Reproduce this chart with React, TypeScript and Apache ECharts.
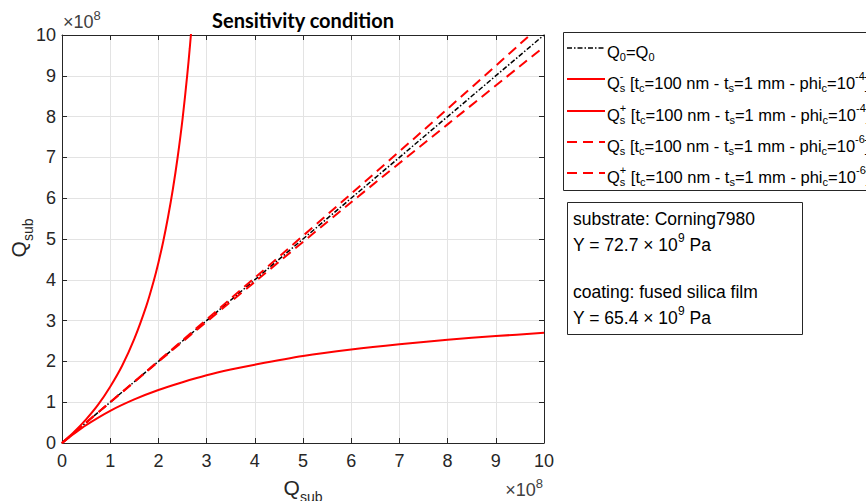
import React, { useEffect, useRef } from "react";
import * as echarts from "echarts";

// ---- data (units of 1e8) ----
const refX = [0, 10];
const refY = [0, 10];

const plus4X = [0, 0.25, 0.5, 0.75, 1, 1.25, 1.5, 1.75, 1.9, 2, 2.1, 2.2, 2.3, 2.4, 2.5, 2.6, 2.65, 2.7, 2.75];
const plus4Y = [0, 0.27, 0.58, 0.94, 1.38, 1.9, 2.55, 3.36, 3.96, 4.42, 4.94, 5.54, 6.22, 7.01, 7.93, 9.04, 9.67, 10.37, 11.15];

const minus4X = [0, 0.25, 0.5, 1, 1.5, 2, 2.5, 3, 3.5, 4, 5, 6, 7, 8, 9, 10];
const minus4Y = [0, 0.23, 0.44, 0.79, 1.07, 1.3, 1.49, 1.66, 1.8, 1.92, 2.13, 2.29, 2.42, 2.53, 2.62, 2.7];

const phi6X = [0, 2, 4, 6, 8, 10];
const minus6Y = [0, 1.99, 3.95, 5.9, 7.81, 9.71];
const plus6Y = [0, 2.01, 4.05, 6.11, 8.19, 10.31];

const FONT = '"Liberation Sans", Arial, sans-serif';
const TXT = "#262626";

const pairs = (xs: number[], ys: number[]) => xs.map((x, i) => [x, ys[i]]);

type Seg = { t: string; k: "n" | "b" | "p"; stack?: boolean };

let measureCtx: CanvasRenderingContext2D | null = null;
function measure(t: string, size: number) {
  if (!measureCtx) measureCtx = document.createElement("canvas").getContext("2d");
  measureCtx!.font = `${size}px "Liberation Sans"`;
  return measureCtx!.measureText(t).width;
}

function lineTexts(
  x0: number,
  y: number,
  segs: Seg[],
  size: number,
  color = "#000",
  subSize = Math.round(size * 0.67),
  subDy = size * 0.33,
  supDy = size * 0.4
) {
  let x = x0;
  let pending = 0;
  const out: any[] = [];
  for (const seg of segs) {
    const s = seg.k === "n" ? size : subSize;
    const dy = seg.k === "b" ? subDy : seg.k === "p" ? -supDy : 0;
    const wd = measure(seg.t, s);
    out.push({
      type: "text",
      x,
      y: y + dy,
      silent: true,
      style: { text: seg.t, fontSize: s, fontFamily: FONT, fill: color, align: "left", verticalAlign: "middle" },
    });
    if (seg.stack) pending = wd;
    else {
      x += Math.max(wd, pending);
      pending = 0;
    }
  }
  return { items: out, width: x - x0 };
}

const qsSegs = (sign: string, exp: string): Seg[] => [
  { t: "Q", k: "n" },
  { t: "s", k: "b", stack: true },
  { t: sign, k: "p" },
  { t: " [t", k: "n" },
  { t: "c", k: "b" },
  { t: "=100 nm - t", k: "n" },
  { t: "s", k: "b" },
  { t: "=1 mm - phi", k: "n" },
  { t: "c", k: "b" },
  { t: "=10", k: "n" },
  { t: exp, k: "p" },
  { t: "]", k: "n" },
];

const qsubSegs: Seg[] = [
  { t: "Q", k: "n" },
  { t: "sub", k: "b" },
];

function centeredLabel(cx: number, cy: number, rotation: number) {
  const probe = lineTexts(0, 0, qsubSegs, 21, TXT, 14, 10, 0);
  const built = lineTexts(-probe.width / 2, 0, qsubSegs, 21, TXT, 14, 10, 0);
  return { type: "group", x: cx, y: cy, rotation, children: built.items };
}

function times10(xRight: number | null, xLeft: number | null, y: number) {
  const segs: Seg[] = [
    { t: "×10", k: "n" },
    { t: "8", k: "p" },
  ];
  const probe = lineTexts(0, 0, segs, 18, "#404040", 13, 0, 7);
  const x0 = xLeft !== null ? xLeft : (xRight as number) - probe.width;
  return lineTexts(x0, y, segs, 18, "#404040", 13, 0, 7).items;
}

export default function App() {
  const ref = useRef<HTMLDivElement>(null);
  useEffect(() => {
    if (!ref.current) return;
    const chart = echarts.init(ref.current, undefined, { renderer: "svg" });

    const axisCommon = {
      type: "value",
      min: 0,
      max: 10,
      interval: 1,
      axisLine: { show: true, onZero: false, lineStyle: { color: TXT, width: 1 } },
      axisTick: { show: true, inside: true, length: 5, lineStyle: { color: TXT } },
    };

    const legX = 567;
    const legRows = [48, 79, 111, 142, 173];
    const legTextX = 607;
    const legFS = 16.5;

    const graphic: any[] = [
      {
        type: "text",
        x: 303,
        y: 20,
        style: {
          text: "Sensitivity condition",
          fontSize: 20,
          fontWeight: "bold",
          fontFamily: "Lato, sans-serif",
          fill: "#000",
          align: "center",
          verticalAlign: "middle",
        },
      },
      ...times10(null, 63, 22),
      ...times10(543, null, 490),
      centeredLabel(303, 487, 0),
      centeredLabel(18, 238, Math.PI / 2),
      // legend box
      {
        type: "rect",
        shape: { x: 563.5, y: 32.5, width: 340, height: 158 },
        style: { fill: "#fff", stroke: TXT, lineWidth: 1 },
      },
      {
        type: "line",
        shape: { x1: legX, y1: legRows[0], x2: legX + 38, y2: legRows[0] },
        style: { stroke: "#000", lineWidth: 1.5, lineDash: [5, 2, 1.5, 2] },
      },
      {
        type: "line",
        shape: { x1: legX, y1: legRows[1], x2: legX + 38, y2: legRows[1] },
        style: { stroke: "#ff0000", lineWidth: 2 },
      },
      {
        type: "line",
        shape: { x1: legX, y1: legRows[2], x2: legX + 38, y2: legRows[2] },
        style: { stroke: "#ff0000", lineWidth: 2 },
      },
      {
        type: "line",
        shape: { x1: legX, y1: legRows[3], x2: legX + 38, y2: legRows[3] },
        style: { stroke: "#ff0000", lineWidth: 2, lineDash: [10, 6] },
      },
      {
        type: "line",
        shape: { x1: legX, y1: legRows[4], x2: legX + 38, y2: legRows[4] },
        style: { stroke: "#ff0000", lineWidth: 2, lineDash: [10, 6] },
      },
      ...lineTexts(legTextX, legRows[0] + 4, [
        { t: "Q", k: "n" },
        { t: "0", k: "b" },
        { t: "=Q", k: "n" },
        { t: "0", k: "b" },
      ], legFS, "#000", 11).items,
      ...lineTexts(legTextX, legRows[1] + 4, qsSegs("-", "-4"), legFS, "#000", 11).items,
      ...lineTexts(legTextX, legRows[2] + 4, qsSegs("+", "-4"), legFS, "#000", 11).items,
      ...lineTexts(legTextX, legRows[3] + 4, qsSegs("-", "-6"), legFS, "#000", 11).items,
      ...lineTexts(legTextX, legRows[4] + 4, qsSegs("+", "-6"), legFS, "#000", 11).items,
      // annotation box
      {
        type: "rect",
        shape: { x: 567.5, y: 202.5, width: 235, height: 132 },
        style: { fill: "#fff", stroke: TXT, lineWidth: 1 },
      },
      ...lineTexts(573, 219, [{ t: "substrate: Corning7980", k: "n" }], 17.5).items,
      ...lineTexts(573, 245, [
        { t: "Y = 72.7 × 10", k: "n" },
        { t: "9", k: "p" },
        { t: " Pa", k: "n" },
      ], 17.5, "#000", 12).items,
      ...lineTexts(573, 292, [{ t: "coating: fused silica film", k: "n" }], 17.5).items,
      ...lineTexts(573, 318, [
        { t: "Y = 65.4 × 10", k: "n" },
        { t: "9", k: "p" },
        { t: " Pa", k: "n" },
      ], 17.5, "#000", 12).items,
    ];

    chart.setOption({
      animation: false,
      backgroundColor: "#fff",
      grid: { left: 62, top: 35, right: 322, bottom: 58, containLabel: false, outerBoundsMode: "none" },
      xAxis: [
        {
          ...axisCommon,
          position: "bottom",
          axisLabel: { show: true, fontSize: 18, fontFamily: FONT, color: TXT, margin: 9 },
          splitLine: { show: true, lineStyle: { color: "#e3e3e3", width: 1 } },
        },
        {
          ...axisCommon,
          position: "top",
          axisLabel: { show: false },
          splitLine: { show: false },
        },
      ],
      yAxis: [
        {
          ...axisCommon,
          position: "left",
          axisLabel: { show: true, fontSize: 18, fontFamily: FONT, color: TXT, margin: 6 },
          splitLine: { show: true, lineStyle: { color: "#e3e3e3", width: 1 } },
        },
        {
          ...axisCommon,
          position: "right",
          axisLabel: { show: false },
          splitLine: { show: false },
        },
      ],
      series: [
        {
          name: "Q0=Q0",
          type: "line",
          data: pairs(refX, refY),
          showSymbol: false,
          lineStyle: { color: "#000", width: 1.5, type: [5, 2, 1.5, 2] },
          clip: true,
          z: 2,
        },
        {
          name: "Qs- 1e-4",
          type: "line",
          data: pairs(minus4X, minus4Y),
          showSymbol: false,
          smooth: 0.3,
          lineStyle: { color: "#ff0000", width: 2 },
          clip: true,
          z: 3,
        },
        {
          name: "Qs+ 1e-4",
          type: "line",
          data: pairs(plus4X, plus4Y),
          showSymbol: false,
          smooth: 0.3,
          lineStyle: { color: "#ff0000", width: 2 },
          clip: true,
          z: 3,
        },
        {
          name: "Qs- 1e-6",
          type: "line",
          data: pairs(phi6X, minus6Y),
          showSymbol: false,
          smooth: 0.3,
          lineStyle: { color: "#ff0000", width: 2, type: [10, 6] },
          clip: true,
          z: 3,
        },
        {
          name: "Qs+ 1e-6",
          type: "line",
          data: pairs(phi6X, plus6Y),
          showSymbol: false,
          smooth: 0.3,
          lineStyle: { color: "#ff0000", width: 2, type: [10, 6] },
          clip: true,
          z: 3,
        },
      ],
      graphic,
    });

    return () => chart.dispose();
  }, []);

  return (
    <div
      ref={ref}
      style={{ position: "absolute", left: 0, top: 0, width: 866, height: 501, background: "#fff" }}
    />
  );
}
